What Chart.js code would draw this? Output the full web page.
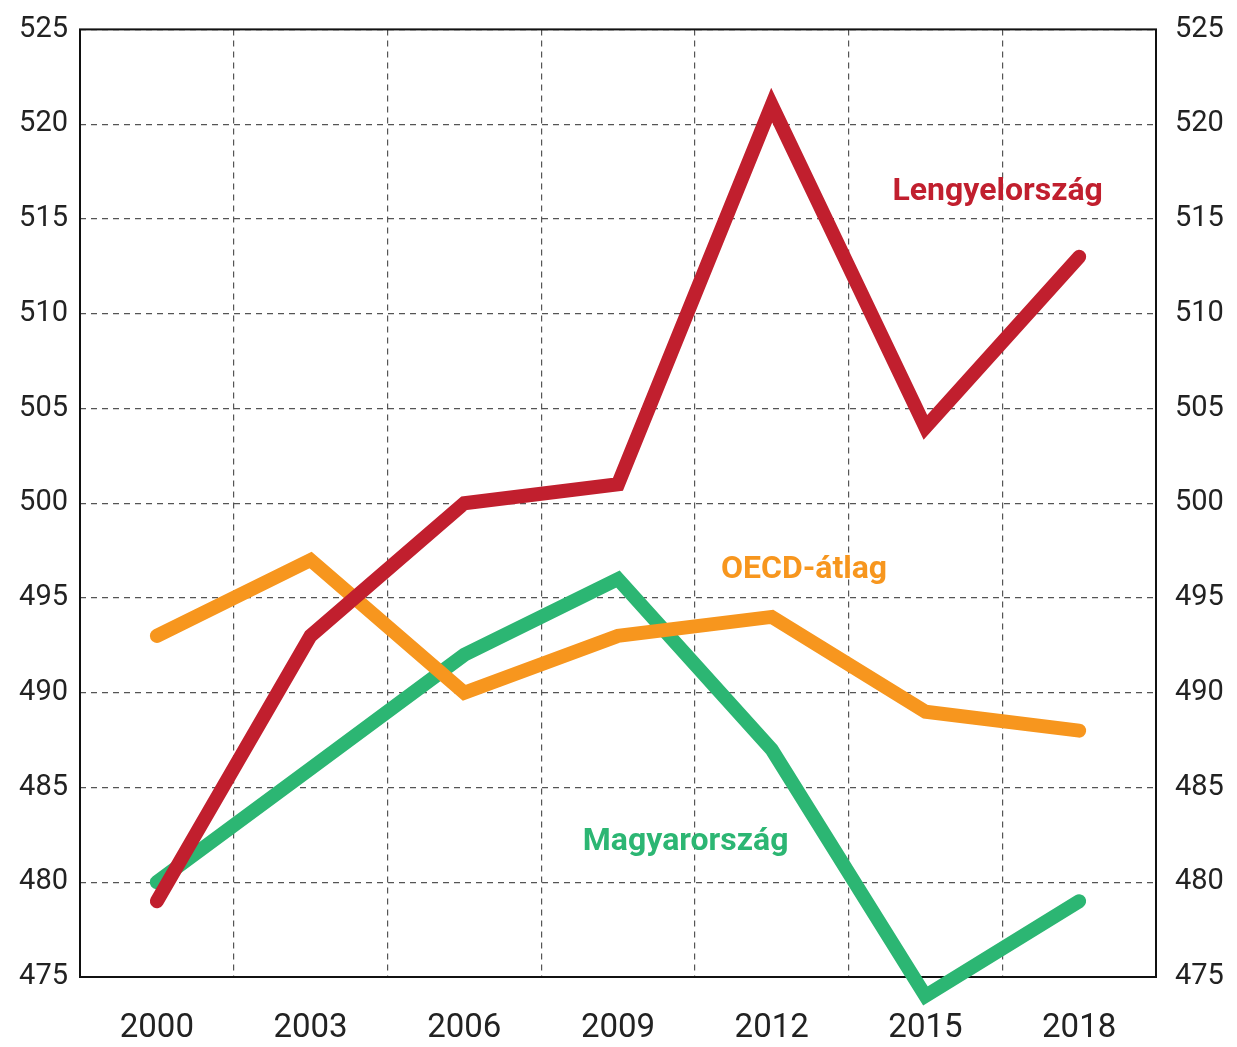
<!DOCTYPE html>
<html>
<head>
<meta charset="utf-8">
<script src="https://cdn.jsdelivr.net/npm/chart.js@4"></script>
<style>
  body { margin: 0; background: #fff; }
  #wrap { width: 1237px; height: 1047px; position: relative; }
</style>
</head>
<body>
<div id="wrap"><canvas id="chart"></canvas></div>
<script>
// data
var years = ['2000', '2003', '2006', '2009', '2012', '2015', '2018'];
var lengyelValues = [479, 493, 500, 501, 521, 504, 513];
var oecdValues = [493, 497, 490, 493, 494, 489, 488];
var magyarValues = [480, 486, 492, 496, 487, 474, 479];
var yMin = 475;
var yMax = 525;

var red = '#c11f2e';
var orange = '#f7961e';
var green = '#2cb673';

// series names drawn inside the plot (x as fractional category index, y in data units)
var seriesLabels = [
  { text: 'Lengyelország', color: red, x: 5.47, y: 516.4 },
  { text: 'OECD-átlag', color: orange, x: 4.21, y: 496.5 },
  { text: 'Magyarország', color: green, x: 3.44, y: 482.1 }
];

// frame round the plot area
var framePlugin = {
  id: 'frame',
  beforeDatasetsDraw: function (chart) {
    var a = chart.chartArea;
    var ctx = chart.ctx;
    ctx.save();
    ctx.strokeStyle = '#111';
    ctx.lineWidth = 2;
    ctx.strokeRect(a.left, a.top, a.right - a.left, a.bottom - a.top);
    ctx.restore();
  }
};

// text labels for the series
var labelPlugin = {
  id: 'seriesText',
  afterDatasetsDraw: function (chart) {
    var ctx = chart.ctx;
    var xs = chart.scales.x;
    var ys = chart.scales.y;
    ctx.save();
    ctx.font = 'bold 32px Roboto';
    ctx.textAlign = 'center';
    ctx.textBaseline = 'middle';
    seriesLabels.forEach(function (l) {
      var px = xs.getPixelForValue(0) + l.x * (xs.getPixelForValue(1) - xs.getPixelForValue(0));
      ctx.fillStyle = l.color;
      ctx.fillText(l.text, px, ys.getPixelForValue(l.y));
    });
    ctx.restore();
  }
};

function lineSet(name, values, color) {
  return {
    label: name,
    data: values,
    borderColor: color,
    backgroundColor: color,
    borderWidth: 14,
    borderCapStyle: 'round',
    pointRadius: 0,
    tension: 0,
    clip: false
  };
}

var ctx = document.getElementById('chart').getContext('2d');
var chart = new Chart(ctx, {
  type: 'line',
  data: {
    labels: years,
    datasets: [
      lineSet('Lengyelország', lengyelValues, red),
      lineSet('OECD-átlag', oecdValues, orange),
      lineSet('Magyarország', magyarValues, green)
    ]
  },
  options: {
    responsive: true,
    maintainAspectRatio: false,
    animation: false,
    layout: { padding: { top: 26, left: 0, right: 0, bottom: 0 } },
    plugins: {
      legend: { display: false },
      tooltip: { enabled: false }
    },
    scales: {
      x: {
        offset: true,
        grid: {
          offset: true,
          drawTicks: false,
          color: '#555',
          lineWidth: 1.2
        },
        border: { display: false, dash: [6, 5] },
        ticks: {
          color: '#222',
          font: { family: 'Roboto', size: 33 },
          padding: 32,
          maxRotation: 0
        },
        afterFit: function (s) { s.height = 70; }
      },
      y: {
        position: 'left',
        min: yMin,
        max: yMax,
        grid: {
          drawTicks: false,
          color: '#555',
          lineWidth: 1.2
        },
        border: { display: false, dash: [6, 5] },
        ticks: {
          stepSize: 5,
          color: '#222',
          font: { family: 'Roboto', size: 29 },
          padding: 12
        },
        afterFit: function (s) { s.width = 80; }
      },
      y2: {
        position: 'right',
        min: yMin,
        max: yMax,
        grid: { display: false },
        border: { display: false },
        ticks: {
          stepSize: 5,
          color: '#222',
          font: { family: 'Roboto', size: 29 },
          padding: 11
        },
        afterFit: function (s) { s.width = 81; }
      }
    }
  },
  plugins: [framePlugin, labelPlugin]
});
</script>
</body>
</html>
